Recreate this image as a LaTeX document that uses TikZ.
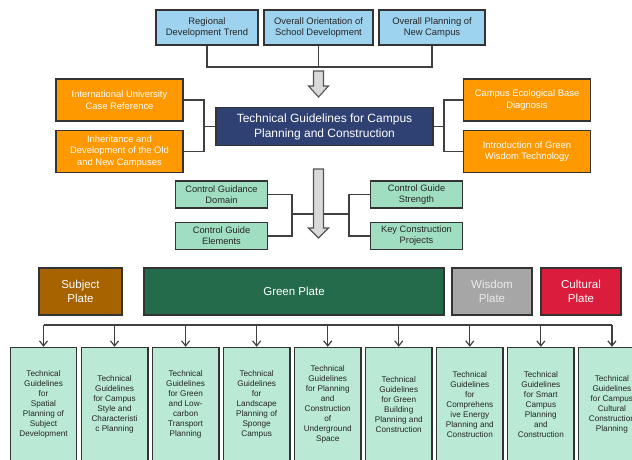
\documentclass[tikz,border=0pt]{standalone}
\usepackage{fontspec}
\setmainfont{Liberation Sans}
\usetikzlibrary{positioning, arrows.meta}
\definecolor{boxline}{RGB}{51,51,51}
\definecolor{linkgray}{RGB}{64,64,64}
\definecolor{skyfill}{RGB}{157,211,238}
\definecolor{orangefill}{RGB}{255,153,0}
\definecolor{navyfill}{RGB}{47,64,115}
\definecolor{mintfill}{RGB}{160,222,194}
\definecolor{palemint}{RGB}{186,233,213}
\definecolor{subjfill}{RGB}{166,99,0}
\definecolor{greenfill}{RGB}{35,107,75}
\definecolor{wisfill}{RGB}{166,166,166}
\definecolor{cultfill}{RGB}{220,28,60}
\definecolor{arrowfill}{RGB}{217,217,217}
\tikzset{
    box/.style={draw=boxline, line width=1.4pt, inner sep=0pt, align=center, text=black!85},
    source/.style={box, fill=skyfill, minimum height=35pt, font=\fontsize{9.4}{11}\selectfont},
    factor/.style={box, fill=orangefill, minimum width=127pt, minimum height=42pt, text=white, font=\fontsize{9.4}{11.6}\selectfont},
    core/.style={box, fill=navyfill, text=white, font=\fontsize{12}{15}\selectfont},
    control/.style={box, fill=mintfill, minimum width=92pt, minimum height=27pt, font=\fontsize{9.3}{11.3}\selectfont},
    plate/.style={box, minimum height=47pt, text=white, font=\fontsize{11.5}{14.3}\selectfont},
    detail/.style={box, fill=palemint, minimum width=66.5pt, minimum height=114pt, font=\fontsize{8.2}{10}\selectfont},
    link/.style={draw=linkgray, line width=1.2pt},
    bigarrow/.style={draw=linkgray!90, fill=arrowfill, line width=1.1pt}
}

\begin{document}
\begin{tikzpicture}[x=1pt, y=-1pt]
    \useasboundingbox (0,0) rectangle (632,459);
    \clip (0,0) rectangle (632,459);

    % sources
    \node[source, minimum width=102pt] (reg)  at (207,27.5)   {Regional\\Development Trend};
    \node[source, minimum width=109pt] (ori)  at (318.5,27.5) {Overall Orientation of\\School Development};
    \node[source, minimum width=106pt] (newc) at (432,27.5)   {Overall Planning of\\New Campus};
    \coordinate (topjoin) at (318.5,67);
    \draw[link] (reg.south) |- (topjoin) -| (newc.south);
    \draw[link] (ori.south) -- (topjoin);
    \draw[bigarrow] (313.5,71) -- (323.5,71) -- (323.5,86) -- (328.5,86) -- (318.5,97)
        -- (308.5,86) -- (313.5,86) -- cycle;

    % technical guidelines
    \node[core, minimum width=217pt, minimum height=38pt] (core) at (324.5,126.5)
        {Technical Guidelines for Campus\\Planning and Construction};
    \node[factor] (intl)  at (119.5,100)        {International University\\Case Reference};
    \node[factor] (inher) [below=8pt of intl]   {Inheritance and\\Development of the Old\\and New Campuses};
    \node[factor] (eco)   at (527,100)          {Campus Ecological Base\\Diagnosis};
    \node[factor] (gtech) [below=8pt of eco]    {Introduction of Green\\Wisdom Technology};
    \coordinate (lj) at (204,126.5);
    \coordinate (rj) at (444,126.5);
    \draw[link] (intl.east) -| (lj) |- (inher.east);
    \draw[link] (lj) -- (core.west);
    \draw[link] (core.east) -- (rj);
    \draw[link] (eco.west) -| (rj) |- (gtech.west);

    % control
    \draw[bigarrow] (313.5,169) -- (323.5,169) -- (323.5,228) -- (328.5,228) -- (318.5,238)
        -- (308.5,228) -- (313.5,228) -- cycle;
    \node[control] (dom)  at (221.5,194.5)      {Control Guidance\\Domain};
    \node[control] (elem) [below=13pt of dom]   {Control Guide\\Elements};
    \node[control] (str)  at (416.5,194.5)      {Control Guide\\Strength};
    \node[control] (key)  [below=13pt of str]   {Key Construction\\Projects};
    \coordinate (cl) at (292,214);
    \coordinate (sl) at (313.5,214);
    \coordinate (sr) at (323.5,214);
    \coordinate (cr) at (349,214);
    \draw[link] (dom.east) -| (cl) |- (elem.east);
    \draw[link] (cl) -- (sl);
    \draw[link] (sr) -- (cr);
    \draw[link] (str.west) -| (cr) |- (key.west);

    % plates
    \node[plate, fill=subjfill,  minimum width=83pt]  (subj)   at (80.5,291.5) {Subject\\Plate};
    \node[plate, fill=greenfill, minimum width=300pt] (greenp) at (294,291.5)  {Green Plate};
    \node[plate, fill=wisfill,   minimum width=80pt, text=white!92!black] (wis) at (492,291.5) {Wisdom\\Plate};
    \node[plate, fill=cultfill,  minimum width=80pt]  (cult)   at (581,291.5)  {Cultural\\Plate};

    % detailed guidelines
    \foreach \i/\txt in {
        1/{Technical\\Guidelines\\for\\Spatial\\Planning of\\Subject\\Development},
        2/{Technical\\Guidelines\\for Campus\\Style and\\Characteristi\\c Planning},
        3/{Technical\\Guidelines\\for Green\\and Low-\\carbon\\Transport\\Planning},
        4/{Technical\\Guidelines\\for\\Landscape\\Planning of\\Sponge\\Campus},
        5/{Technical\\Guidelines\\for Planning\\and\\Construction\\of\\Underground\\Space},
        6/{Technical\\Guidelines\\for Green\\Building\\Planning and\\Construction},
        7/{Technical\\Guidelines\\for\\Comprehens\\ive Energy\\Planning and\\Construction},
        8/{Technical\\Guidelines\\for Smart\\Campus\\Planning\\and\\Construction},
        9/{Technical\\Guidelines\\for Campus\\Cultural\\Construction\\Planning}}
        \node[detail] (d\i) at ({43.5+71.05*(\i-1)},404.5) {\txt};
    \foreach \i in {1,...,9}
        \coordinate (t\i) at (d\i.north |- 0,325);
    \draw[link] (t1) -- (t9);
    \foreach \i in {1,...,9}
        \draw[link, -{Straight Barb[length=5pt, width=8pt]}] (t\i) -- (d\i.north);
\end{tikzpicture}
\end{document}
